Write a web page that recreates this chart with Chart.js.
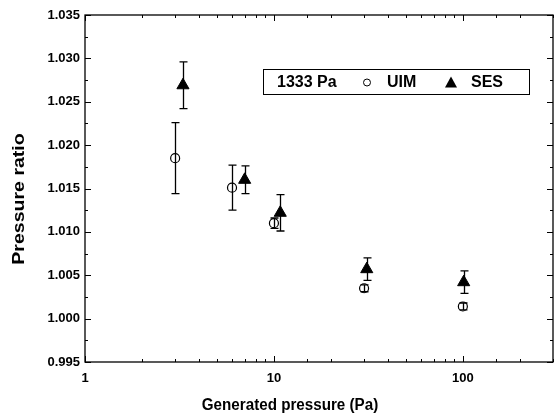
<!DOCTYPE html>
<html>
<head>
<meta charset="utf-8">
<script src="https://cdn.jsdelivr.net/npm/chart.js@4.4.1/dist/chart.umd.min.js"></script>
<style>
    body { margin: 0; background: #fff; }
    #wrap { width: 556px; height: 419px; }
</style>
</head>
<body>
<div id="wrap"><canvas id="chart"></canvas></div>
<script>
// data
const uimX = [3, 6, 10, 30, 100];
const uimY = [1.0185, 1.0151, 1.0110, 1.0035, 1.0014];
const uimErr = [0.0041, 0.0026, 0.0006, 0.0004, 0.0004];

const sesX = [3.3, 7, 10.8, 31, 101];
const sesY = [1.0269, 1.0160, 1.0122, 1.0057, 1.0042];
const sesErr = [0.0027, 0.0016, 0.0021, 0.0013, 0.0013];

const xLabels = [1, 10, 100];
const legendTitle = '1333 Pa';

const FONT = '"Liberation Sans", Arial, sans-serif';

const toPoints = (xs, ys, es) => xs.map((x, i) => ({ x, y: ys[i], e: es[i] }));

const frameAndTicks = {
    id: 'frameAndTicks',
    afterDraw(chart) {
        const { ctx, chartArea: a, scales: { x, y } } = chart;
        ctx.save();
        ctx.strokeStyle = '#000';
        ctx.lineWidth = 1.3;
        ctx.strokeRect(a.left, a.top, a.right - a.left, a.bottom - a.top);

        ctx.lineWidth = 1;
        ctx.beginPath();
        // y ticks, inward on both sides
        for (let v = 0.995; v <= 1.0351; v += 0.0025) {
            const major = Math.abs(Math.round(v * 1000 / 5) * 5 - v * 1000) < 1e-6;
            const len = major ? 6 : 3;
            const py = Math.round(y.getPixelForValue(v)) + 0.5;
            ctx.moveTo(a.left, py); ctx.lineTo(a.left + len, py);
            ctx.moveTo(a.right, py); ctx.lineTo(a.right - len, py);
        }
        // x ticks from the log scale
        x.ticks.forEach(t => {
            const lg = Math.log10(t.value);
            const major = Math.abs(lg - Math.round(lg)) < 1e-9;
            const len = major ? 6 : 3;
            const px = Math.round(x.getPixelForValue(t.value)) + 0.5;
            ctx.moveTo(px, a.bottom); ctx.lineTo(px, a.bottom - len);
            ctx.moveTo(px, a.top); ctx.lineTo(px, a.top + len);
        });
        ctx.stroke();

        // axis titles (slightly stretched like the scanned figure)
        ctx.fillStyle = '#000';
        ctx.textAlign = 'center';
        ctx.textBaseline = 'middle';
        ctx.font = 'bold 15.5px ' + FONT;
        ctx.save();
        ctx.translate(290, 405);
        ctx.scale(0.98, 1.12);
        ctx.fillText('Generated pressure (Pa)', 0, 0);
        ctx.restore();

        ctx.font = 'bold 17px ' + FONT;
        ctx.save();
        ctx.translate(19, 199);
        ctx.rotate(-Math.PI / 2);
        ctx.scale(1.15, 1);
        ctx.fillText('Pressure ratio', 0, 0);
        ctx.restore();

        // legend box
        const lx = 263, ly = 69, lw = 266, lh = 25;
        ctx.lineWidth = 1;
        ctx.strokeRect(lx + 0.5, ly + 0.5, lw, lh);
        const cy = ly + lh / 2 + 1;
        ctx.font = 'bold 16px ' + FONT;
        ctx.textAlign = 'left';
        ctx.fillText(legendTitle, 277, cy);
        ctx.beginPath();
        ctx.arc(367, cy, 3.5, 0, Math.PI * 2);
        ctx.stroke();
        ctx.fillText(chart.data.datasets[0].label, 387, cy);
        ctx.beginPath();
        ctx.moveTo(451, cy - 6); ctx.lineTo(457, cy + 5); ctx.lineTo(445, cy + 5);
        ctx.closePath();
        ctx.fill();
        ctx.fillText(chart.data.datasets[1].label, 471, cy);
        ctx.restore();
    }
};

const errorBars = {
    id: 'errorBars',
    beforeDatasetsDraw(chart) {
        const { ctx, scales: { x, y } } = chart;
        ctx.save();
        ctx.strokeStyle = '#000';
        ctx.lineWidth = 1.3;
        chart.data.datasets.forEach(ds => {
            ds.data.forEach(p => {
                const px = Math.round(x.getPixelForValue(p.x)) + 0.5;
                const top = y.getPixelForValue(p.y + p.e);
                const bot = y.getPixelForValue(p.y - p.e);
                ctx.beginPath();
                ctx.moveTo(px, top); ctx.lineTo(px, bot);
                ctx.moveTo(px - 4, top); ctx.lineTo(px + 4, top);
                ctx.moveTo(px - 4, bot); ctx.lineTo(px + 4, bot);
                ctx.stroke();
            });
        });
        ctx.restore();
    }
};

new Chart(document.getElementById('chart'), {
    type: 'scatter',
    data: {
        datasets: [
            {
                label: 'UIM',
                data: toPoints(uimX, uimY, uimErr),
                pointStyle: 'circle',
                pointRadius: 4.5,
                pointHoverRadius: 4.5,
                backgroundColor: 'rgba(0,0,0,0)',
                borderColor: '#000',
                borderWidth: 1.2,
            },
            {
                label: 'SES',
                data: toPoints(sesX, sesY, sesErr),
                pointStyle: 'triangle',
                pointRadius: 7,
                pointHoverRadius: 7,
                backgroundColor: '#000',
                borderColor: '#000',
                borderWidth: 1,
            },
        ],
    },
    options: {
        responsive: true,
        maintainAspectRatio: false,
        animation: false,
        layout: { autoPadding: false, padding: { left: 0, top: 15, right: 3, bottom: 0 } },
        plugins: {
            legend: { display: false },
            tooltip: { enabled: false },
        },
        scales: {
            x: {
                type: 'logarithmic',
                min: 1,
                max: 300,
                grid: { display: false, drawTicks: false },
                border: { display: false },
                ticks: {
                    color: '#000',
                    font: { family: FONT, size: 13, weight: 'bold' },
                    padding: 9,
                    maxRotation: 0,
                    autoSkip: false,
                    callback: v => xLabels.includes(v) ? String(v) : '',
                },
                afterFit: s => { s.height = 57; s.paddingLeft = 0; s.paddingRight = 0; },
            },
            y: {
                min: 0.995,
                max: 1.035,
                grid: { display: false, drawTicks: false },
                border: { display: false },
                ticks: {
                    stepSize: 0.005,
                    color: '#000',
                    font: { family: FONT, size: 13, weight: 'bold' },
                    padding: 5,
                    callback: v => v.toFixed(3),
                },
                afterFit: s => { s.width = 85; },
            },
        },
    },
    plugins: [errorBars, frameAndTicks],
});
</script>
</body>
</html>
